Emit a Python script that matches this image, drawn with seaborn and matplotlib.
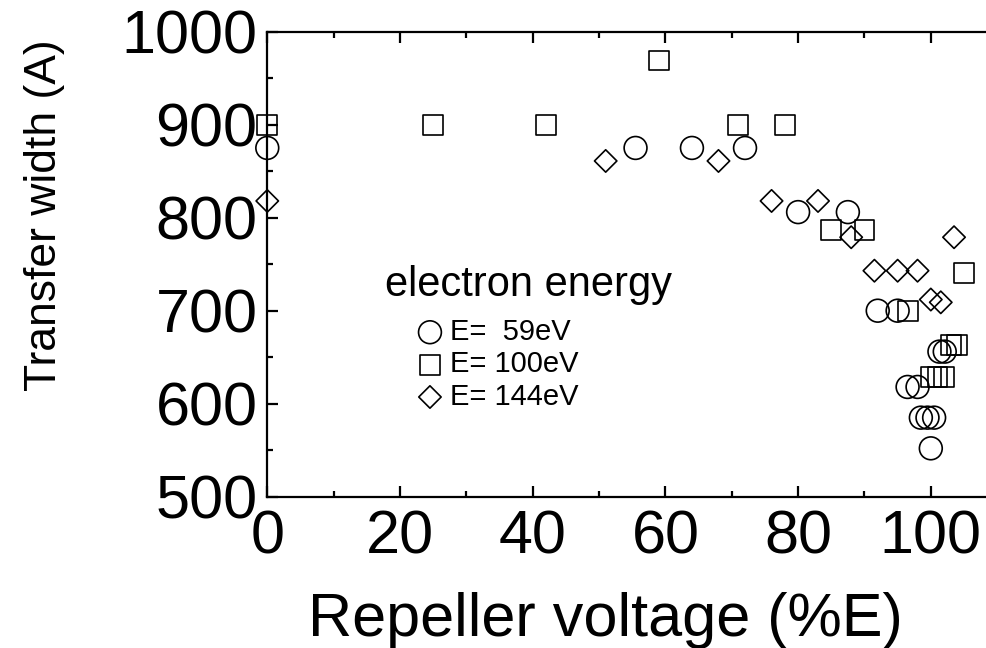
import matplotlib
matplotlib.use("Agg")
import matplotlib.pyplot as plt
import seaborn as sns
import pandas as pd

# Repeller voltage (% of electron energy) and measured transfer width (A)
x_59 = [0, 55.5, 64, 72, 80, 87.5, 92, 95, 96.5, 98, 98.5, 99.5, 100.5, 100, 101.3, 102.1]
y_59 = [875, 875, 875, 875, 806, 806, 700, 700, 618, 618, 585, 585, 585, 552, 656, 656]

x_100 = [0, 25, 42, 59, 71, 78, 85, 90, 96.6, 100, 101, 102, 103, 104, 105]
y_100 = [900, 900, 900, 969, 900, 900, 787, 787, 700, 629, 629, 629, 663, 663, 741]

x_144 = [0, 51, 68, 76, 83, 88, 91.5, 95, 98, 100, 101.5, 103.5]
y_144 = [818, 861, 861, 818, 818, 779, 743, 743, 743, 712, 709, 779]

series_labels = ["E=  59eV", "E= 100eV", "E= 144eV"]
series_markers = ["o", "s", "D"]
series_sizes = [270, 205, 130]

x_ticks = [0, 20, 40, 60, 80, 100]
y_ticks = [500, 600, 700, 800, 900, 1000]

sns.set_style("ticks")
plt.rcParams["font.family"] = ["Liberation Sans", "DejaVu Sans"]
for key in ["text.color", "axes.labelcolor", "xtick.color", "ytick.color",
            "axes.edgecolor"]:
    plt.rcParams[key] = "black"

fig = plt.figure(figsize=(9.87, 6.48), dpi=100)
# the frame runs to x = 110, slightly past the right edge of the canvas
ax = fig.add_axes([0.2708, 0.2335, 0.7395, 0.7176])

frames = [
    pd.DataFrame({"v": x_59, "w": y_59}),
    pd.DataFrame({"v": x_100, "w": y_100}),
    pd.DataFrame({"v": x_144, "w": y_144}),
]
for df, lab, mk, sz in zip(frames, series_labels, series_markers, series_sizes):
    sns.scatterplot(data=df, x="v", y="w", ax=ax, marker=mk, s=sz,
                    facecolor="none", edgecolor="black", linewidth=1.2,
                    label=lab, clip_on=False, zorder=3)

ax.set_xlim(0, 110)
ax.set_ylim(500, 1000)
ax.set_xticks(x_ticks)
ax.set_yticks(y_ticks)
ax.set_xticks([10, 30, 50, 70, 90], minor=True)
ax.set_yticks([550, 650, 750, 850, 950], minor=True)

for side in ["left", "bottom", "top", "right"]:
    ax.spines[side].set_linewidth(1.6)

ax.tick_params(which="both", direction="in", top=True, bottom=True,
               left=True, right=True, width=1.6)
ax.tick_params(which="major", length=8, labelsize=44)
ax.tick_params(axis="y", which="major", pad=7)
ax.tick_params(axis="x", which="major", pad=9)
ax.tick_params(which="minor", length=4)

ax.set_xlabel("Repeller voltage (%E)", fontsize=44)
ax.set_ylabel("Transfer width (A)", fontsize=32)
ax.xaxis.set_label_coords(0.4627, -0.205)
ax.yaxis.set_label_coords(-0.277, 0.606)

ax.text(0.1613, 0.455, "electron energy", transform=ax.transAxes,
        fontsize=30, ha="left", va="center")
ax.legend(loc="upper left", bbox_to_anchor=(0.2029, 0.3845), frameon=False,
          fontsize=21, handlelength=1.0, handletextpad=0.18,
          labelspacing=0.15, borderpad=0, borderaxespad=0)

fig.savefig("out.png", dpi=100)
